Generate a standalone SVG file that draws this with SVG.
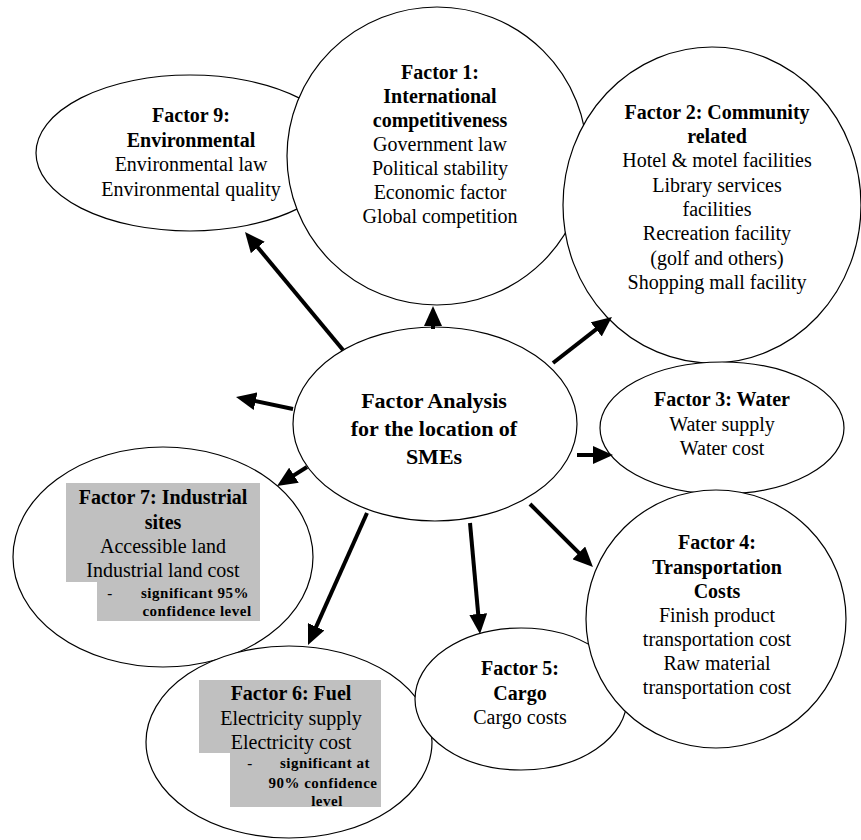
<svg xmlns="http://www.w3.org/2000/svg" width="861" height="840" viewBox="0 0 861 840" font-family="Liberation Serif, Times New Roman, DejaVu Serif, serif">
<style>
.node ellipse{fill:#ffffff;stroke:#000000;stroke-width:1.2}
text{font-family:'Liberation Serif','Times New Roman','DejaVu Serif',serif;fill:#000000;text-anchor:middle}
.t{font-size:20px}
.b{font-size:20px;font-weight:bold}
.c{font-size:22px;font-weight:bold}
.s{font-size:15px;font-weight:bold;letter-spacing:0.5px}
.box{fill:#c0c0c0}
.conn line{stroke:#000000;stroke-width:4;marker-end:url(#ah)}
</style>
<defs>
<marker id="ah" viewBox="0 0 20 18" refX="10" refY="9" markerWidth="20" markerHeight="18" markerUnits="userSpaceOnUse" orient="auto">
<path d="M0,0 L20,9 L0,18 z" fill="#000000"/>
</marker>
</defs>
<rect width="861" height="840" fill="#ffffff"/>

<g id="factor9" class="node">
<ellipse cx="190" cy="153" rx="154" ry="78"/>
<text class="b" x="191" y="122">Factor 9:</text>
<text class="b" x="191" y="147">Environmental</text>
<text class="t" x="191" y="171">Environmental law</text>
<text class="t" x="191" y="196">Environmental quality</text>
</g>

<g id="factor1" class="node">
<ellipse cx="437" cy="156" rx="150" ry="149"/>
<text class="b" x="440" y="79">Factor 1:</text>
<text class="b" x="440" y="103">International</text>
<text class="b" x="440" y="127">competitiveness</text>
<text class="t" x="440" y="151">Government law</text>
<text class="t" x="440" y="175">Political stability</text>
<text class="t" x="440" y="199">Economic factor</text>
<text class="t" x="440" y="223">Global competition</text>
</g>

<g id="factor2" class="node">
<ellipse cx="712" cy="205" rx="149" ry="158"/>
<text class="b" x="717" y="119">Factor 2: Community</text>
<text class="b" x="717" y="143">related</text>
<text class="t" x="717" y="167">Hotel &amp; motel facilities</text>
<text class="t" x="717" y="192">Library services</text>
<text class="t" x="717" y="216">facilities</text>
<text class="t" x="717" y="240">Recreation facility</text>
<text class="t" x="717" y="265">(golf and others)</text>
<text class="t" x="717" y="289">Shopping mall facility</text>
</g>

<g id="factor3" class="node">
<ellipse cx="722" cy="428" rx="122" ry="66"/>
<text class="b" x="722" y="406">Factor 3: Water</text>
<text class="t" x="722" y="431">Water supply</text>
<text class="t" x="722" y="455">Water cost</text>
</g>

<g id="factor7" class="node">
<ellipse cx="163" cy="557" rx="150" ry="110"/>
<path class="box" d="M66,483 H260 V621 H97 V582 H66 Z"/>
<text class="b" x="163" y="504">Factor 7: Industrial</text>
<text class="b" x="163" y="529">sites</text>
<text class="t" x="163" y="553">Accessible land</text>
<text class="t" x="163" y="577">Industrial land cost</text>
<text class="s" x="110" y="598">-</text>
<text class="s" x="195" y="598">significant  95%</text>
<text class="s" x="197" y="616">confidence level</text>
</g>

<g id="factor6" class="node">
<ellipse cx="289" cy="742" rx="143" ry="96"/>
<path class="box" d="M199,680 H381 V807 H230 V753 H199 Z"/>
<text class="b" x="291" y="700">Factor 6: Fuel</text>
<text class="t" x="291" y="725">Electricity supply</text>
<text class="t" x="291" y="749">Electricity cost</text>
<text class="s" x="250" y="768">-</text>
<text class="s" x="325" y="768">significant at</text>
<text class="s" x="323" y="788">90% confidence</text>
<text class="s" x="327" y="806">level</text>
</g>

<g id="factor5" class="node">
<ellipse cx="521" cy="699" rx="106" ry="71"/>
<text class="b" x="520" y="675">Factor 5:</text>
<text class="b" x="520" y="700">Cargo</text>
<text class="t" x="520" y="724">Cargo costs</text>
</g>

<g id="factor4" class="node">
<ellipse cx="716" cy="619" rx="130" ry="129"/>
<text class="b" x="717" y="549">Factor 4:</text>
<text class="b" x="717" y="574">Transportation</text>
<text class="b" x="717" y="598">Costs</text>
<text class="t" x="717" y="622">Finish product</text>
<text class="t" x="717" y="646">transportation cost</text>
<text class="t" x="717" y="670">Raw material</text>
<text class="t" x="717" y="694">transportation cost</text>
</g>

<g id="center" class="node">
<ellipse cx="435" cy="424" rx="142" ry="97"/>
<text class="c" x="434" y="408">Factor Analysis</text>
<text class="c" x="434" y="436">for the location of</text>
<text class="c" x="434" y="464">SMEs</text>
</g>

<g id="connectors" class="conn">
<line x1="343" y1="350" x2="251.4" y2="239.7"/>
<line x1="433" y1="329" x2="433" y2="316"/>
<line x1="553" y1="363" x2="604.1" y2="323.2"/>
<line x1="293" y1="409" x2="245.8" y2="399.1"/>
<line x1="307" y1="467" x2="285.5" y2="480.6"/>
<line x1="577" y1="455" x2="603" y2="455"/>
<line x1="530" y1="504" x2="585.9" y2="559.9"/>
<line x1="470" y1="523" x2="479.1" y2="624"/>
<line x1="367" y1="513" x2="312.1" y2="635.9"/>
</g>
</svg>
